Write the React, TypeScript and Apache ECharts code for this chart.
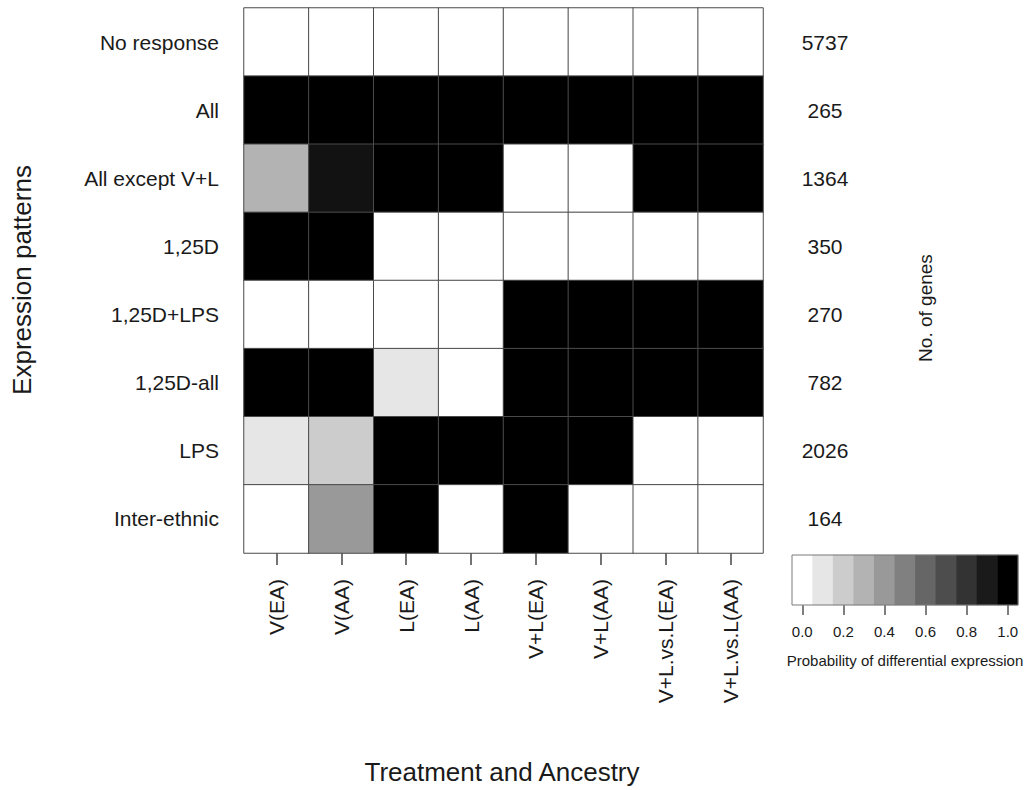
import React, { useEffect, useRef } from "react";
import * as echarts from "echarts";

const columns = ["V(EA)", "V(AA)", "L(EA)", "L(AA)", "V+L(EA)", "V+L(AA)", "V+L.vs.L(EA)", "V+L.vs.L(AA)"];
const patterns = ["No response", "All", "All except V+L", "1,25D", "1,25D+LPS", "1,25D-all", "LPS", "Inter-ethnic"];
const geneCounts = [5737, 265, 1364, 350, 270, 782, 2026, 164];
const probabilities = [
  [0, 0, 0, 0, 0, 0, 0, 0],
  [1, 1, 1, 1, 1, 1, 1, 1],
  [0.3, 0.93, 1, 1, 0, 0, 1, 1],
  [1, 1, 0, 0, 0, 0, 0, 0],
  [0, 0, 0, 0, 1, 1, 1, 1],
  [1, 1, 0.1, 0, 1, 1, 1, 1],
  [0.1, 0.2, 1, 1, 1, 1, 0, 0],
  [0, 0.4, 1, 0, 1, 0, 0, 0],
];
const legendLevels = [0, 0.1, 0.2, 0.3, 0.4, 0.5, 0.6, 0.7, 0.8, 0.9, 1.0];

const FONT = "'Liberation Sans', Arial, sans-serif";
const TXT = "#1a1a1a";

export default function App() {
  const ref = useRef<HTMLDivElement>(null);
  useEffect(() => {
    if (!ref.current) return;
    const chart = echarts.init(ref.current, null, { renderer: "svg" });
    const cells: number[][] = [];
    probabilities.forEach((row, r) => row.forEach((v, c) => cells.push([c, r, v])));
    const legendCells = legendLevels.map((v, i) => [i, 0, v]);
    chart.setOption({
      animation: false,
      backgroundColor: "#ffffff",
      textStyle: { fontFamily: FONT },
      grid: [
        { left: 244, top: 8, width: 519, height: 545 },
        { left: 792, top: 555, width: 226, height: 50, show: true, z: 5, borderColor: "#7a7a7a", borderWidth: 1, backgroundColor: "transparent" },
      ],
      xAxis: [
        {
          type: "category",
          gridIndex: 0,
          data: columns,
          axisLine: { show: false },
          axisTick: { show: true, alignWithLabel: true, length: 12, lineStyle: { color: "#444", width: 1.5 } },
          axisLabel: { rotate: 90, margin: 26, fontSize: 21, color: TXT, fontFamily: FONT, interval: 0 },
          splitLine: { show: false },
        },
        {
          type: "category",
          gridIndex: 1,
          data: legendLevels.map((v) => v.toFixed(1)),
          axisLine: { show: false },
          axisTick: { show: true, alignWithLabel: true, interval: 1, length: 10, lineStyle: { color: "#555", width: 1.5 } },
          axisLabel: { interval: 1, margin: 19, fontSize: 15, color: TXT, fontFamily: FONT },
          splitLine: { show: false },
        },
      ],
      yAxis: [
        {
          type: "category",
          gridIndex: 0,
          data: patterns,
          inverse: true,
          axisLine: { show: false },
          axisTick: { show: false },
          axisLabel: { margin: 25, fontSize: 21, color: TXT, fontFamily: FONT },
          splitLine: { show: false },
        },
        {
          type: "category",
          gridIndex: 0,
          position: "right",
          data: geneCounts.map(String),
          inverse: true,
          axisLine: { show: false },
          axisTick: { show: false },
          axisLabel: { margin: 62, align: "center", fontSize: 21, color: TXT, fontFamily: FONT },
          splitLine: { show: false },
        },
        {
          type: "category",
          gridIndex: 1,
          data: [""],
          show: false,
        },
      ],
      visualMap: {
        type: "continuous",
        show: false,
        min: 0,
        max: 1,
        dimension: 2,
        seriesIndex: [0, 1],
        inRange: { color: ["#ffffff", "#000000"] },
      },
      graphic: [
        {
          type: "text",
          x: 22,
          y: 280,
          rotation: Math.PI / 2,
          style: { text: "Expression patterns", fontSize: 26, fill: TXT, fontFamily: FONT, align: "center", verticalAlign: "middle" },
        },
        {
          type: "text",
          x: 502,
          y: 772,
          style: { text: "Treatment and Ancestry", fontSize: 26, fill: TXT, fontFamily: FONT, align: "center", verticalAlign: "middle" },
        },
        {
          type: "text",
          x: 925,
          y: 308,
          rotation: Math.PI / 2,
          style: { text: "No. of genes", fontSize: 19, fill: TXT, fontFamily: FONT, align: "center", verticalAlign: "middle" },
        },
        {
          type: "text",
          x: 905,
          y: 660,
          style: { text: "Probability of differential expression", fontSize: 15, fill: TXT, fontFamily: FONT, align: "center", verticalAlign: "middle" },
        },
      ],
      series: [
        {
          type: "heatmap",
          xAxisIndex: 0,
          yAxisIndex: 0,
          data: cells,
          itemStyle: { borderColor: "#4a4a4a", borderWidth: 1 },
          emphasis: { disabled: true },
        },
        {
          type: "heatmap",
          xAxisIndex: 1,
          yAxisIndex: 2,
          data: legendCells,
          itemStyle: { borderWidth: 0 },
          emphasis: { disabled: true },
        },
      ],
    });
    return () => chart.dispose();
  }, []);
  return <div ref={ref} style={{ position: "fixed", left: 0, top: 0, width: 1027, height: 790 }} />;
}
